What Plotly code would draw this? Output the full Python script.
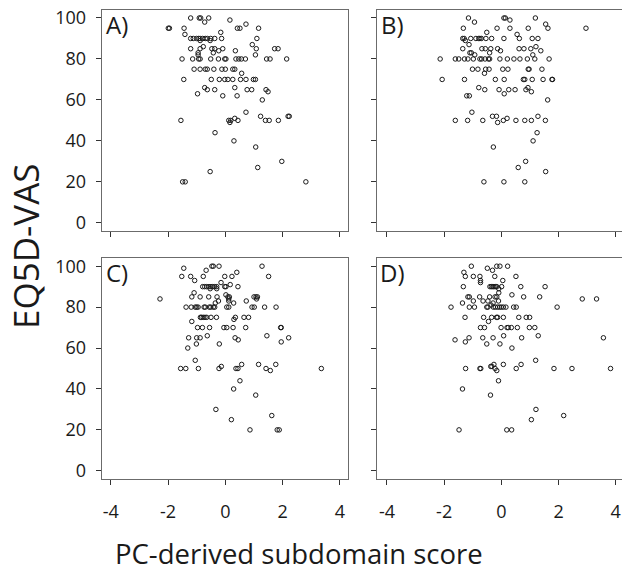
import plotly.graph_objects as go

# ---------------- data ----------------
a_x = [-1.21, -0.91, -0.86, -0.58, -0.72, 0.16, -1.99, -1.95, -1.44, 0.42, 0.51, 0.72, 1.16, -1.41, -0.16,
       -1.21, -1.12, -1.0, -0.93, -0.88, -0.79, -0.70, -0.63, -0.51, -0.37, -0.13, -0.88, -0.53, 1.10, 0.94,
       1.08, 1.72, 1.84, -1.21, -0.88, -0.77, -0.47, -0.37, -0.42, -0.23, -0.09, 0.35, 1.05, -0.95, -0.95,
       -1.51, -1.14, -0.93, -0.88, -0.51, -0.24, -0.02, 0.02, 0.37, 0.47, 0.56, 0.70, 1.44, 1.56, 2.14,
       -1.09, -0.88, -0.70, -0.63, -0.40, -0.12, 0.0, 0.26, 0.33, 0.57,
       -1.45, -0.49, -0.21, -0.02, 0.09, 0.26, 0.53, 0.72, 0.98, 1.05,
       -0.72, -0.63, -0.37, 0.33, 0.76, 0.92, 1.42, 1.49, -0.97, -0.09, 0.41, 1.29,
       0.72, 1.23, 2.19, 2.23, -1.55, 0.12, 0.19, 0.16, 0.33, 0.44, 1.40, 1.53, 1.85,
       -0.36, 0.30, 1.06, 1.97, 1.13, -0.53, -1.49, -1.40, 2.81]
a_y = [100, 100, 100, 100, 98, 99, 95, 95, 95, 95, 95, 97, 95, 92, 93,
       90, 90, 90, 90, 90, 90, 90, 90, 90, 90, 90, 89, 89, 90, 87,
       85, 85, 85, 85, 85, 86, 85, 85, 83, 84, 85, 84, 82, 83, 82,
       80, 80, 80, 80, 80, 80, 80, 80, 80, 80, 80, 80, 80, 80, 80,
       75, 75, 75, 75, 75, 75, 75, 75, 75, 73,
       70, 70, 70, 70, 70, 70, 70, 70, 70, 70,
       66, 65, 65, 66, 65, 65, 65, 64, 63, 62, 62, 60,
       54, 52, 52, 52, 50, 50, 50, 49, 51, 50, 50, 50, 50,
       44, 40, 37, 30, 27, 25, 20, 20, 20]

b_x = [-1.15, -0.94, 0.09, 0.14, 0.30, 1.19, 1.55, 1.63, 2.96, -1.33, -0.15, 0.30, 0.94, -0.51, 0.55,
       -1.35, -1.30, -1.07, -0.89, -0.79, -0.75, -0.70, -0.54, -0.34, 0.09, 0.63, 1.08, 1.28, -1.26, -1.13,
       -1.35, -0.68, -0.56, -0.37, -0.13, -0.03, 0.62, 0.79, 1.03, 1.21, 1.38, -1.10, -1.05, -0.93, -0.41, 1.10,
       -2.14, -1.61, -1.49, -1.29, -1.17, -0.98, -0.75, -0.69, -0.57, -0.45, -0.41, -0.05, 0.21, 0.44, 0.65,
       0.91, 1.17, 1.67,
       -1.01, -0.82, -0.59, -0.55, -0.43, 0.05, 0.23, 0.94, 0.97, 1.42,
       -2.07, -1.29, -0.21, 0.10, 0.77, 0.82, 1.08, 1.46, 1.77, 1.79,
       -0.79, -0.58, -0.08, 0.10, 0.26, 0.48, 0.86, 0.93, 1.05, -1.21, -1.12, 1.62,
       -1.03, -0.31, -0.17, -1.61, -1.18, -0.65, -0.13, 0.07, 0.20, 0.51, 0.82, 1.05, 1.28, 1.54,
       1.25, 1.11, -0.28, 0.85, 0.59, 1.55, -0.61, 0.09, 0.82]
b_y = [100, 98, 100, 100, 99, 100, 97, 95, 95, 95, 95, 95, 95, 93, 92,
       90, 90, 90, 90, 90, 90, 90, 90, 90, 90, 90, 90, 90, 89, 87,
       85, 85, 85, 85, 85, 84, 85, 85, 85, 86, 84, 83, 83, 82, 83, 82,
       80, 80, 80, 80, 80, 80, 80, 80, 80, 80, 80, 80, 80, 80, 80,
       80, 80, 80,
       75, 75, 73, 75, 75, 75, 75, 75, 75, 75,
       70, 70, 70, 70, 70, 70, 70, 70, 70, 70,
       66, 65, 65, 63, 65, 65, 65, 66, 64, 62, 62, 60,
       54, 52, 52, 50, 50, 50, 49, 50, 51, 50, 50, 50, 52, 50,
       44, 40, 37, 30, 27, 25, 20, 20, 20]

c_x = [-1.45, -0.47, -0.42, -0.22, 1.28, -0.67, -1.52, -1.21, -1.07, -0.77, -0.02, 0.23, 0.40, 1.51, -0.15, 0.17,
       -0.79, -0.72, -0.65, -0.57, -0.50, -0.44, -0.37, -0.30, -0.53, -0.30, -0.02, 0.02, 0.44,
       -1.09, -1.17, -0.88, -0.58, -0.29, 0.02, 0.09, 0.14, 0.12, 1.00, 1.07, 1.12, 1.09, -2.28, -0.24,
       -0.35, 0.29, 0.73, 0.12,
       -1.37, -1.19, -1.05, -1.00, -0.95, -0.74, -0.70, -0.56, -0.51, -0.42, -0.37, 0.05, 0.12, 0.93, 1.01,
       1.37, 1.77,
       -0.87, -0.83, -0.77, -0.71, -0.65, -0.50, -0.31, 0.30, 0.35, 0.65, 0.81, -1.17,
       -0.97, -0.80, -0.55, -0.05, 0.05, 0.27, 0.71, 1.93, 1.95,
       -1.28, -1.00, -0.88, -0.63, 0.34, 0.45, 1.45, 2.21, -1.01, -0.21, 1.95, -1.31,
       -1.05, -1.56, -1.38, -0.94, -0.22, -0.14, 0.37, 0.44, 0.57, 1.16, 1.42, 1.57, 1.76, 3.35,
       0.51, 0.29, 1.06, -0.33, 1.62, 0.21, 0.86, 1.81, 1.88]
c_y = [99, 100, 100, 100, 100, 98, 95, 95, 93, 95, 95, 95, 97, 95, 92, 91,
       90, 90, 90, 90, 90, 90, 90, 90, 89, 89, 90, 90, 90,
       87, 85, 85, 85, 85, 86, 85, 85, 84, 85, 85, 85, 84, 84, 83,
       82, 82, 83, 83,
       80, 80, 80, 80, 80, 80, 80, 80, 80, 80, 80, 80, 80, 80, 80,
       80, 80,
       75, 75, 75, 75, 75, 75, 75, 74, 75, 75, 75, 73,
       70, 70, 70, 70, 70, 70, 70, 70, 70,
       65, 65, 65, 66, 65, 64, 66, 65, 62, 62, 63, 60,
       54, 50, 50, 50, 50, 51, 50, 50, 52, 52, 50, 49, 52, 50,
       44, 40, 37, 30, 27, 25, 20, 20, 20]

d_x = [-1.05, -0.49, -0.31, -0.16, -0.05, 0.22, -1.31, -1.26, -0.98, -0.75, -0.73, -0.73, -0.23, 0.05, 0.51,
       -1.33, -0.40, -0.35, -0.30, -0.26, -0.21, -0.16, 0.01, 0.68, 1.53, -0.09, -0.09,
       -1.17, -1.12, -0.76, -0.41, -0.22, -0.16, 0.37, 0.78, 1.34, 2.83, 3.33, -1.36, -0.98, -0.64, -0.47,
       -0.29, -0.36, -0.10,
       -1.76, -1.12, -0.94, -0.51, -0.47, -0.28, -0.21, -0.13, -0.06, 0.0, 0.07, 0.16, 0.43, 0.52, 1.95,
       -1.27, -0.62, -0.45, -0.34, -0.17, -0.13, 0.07, 0.61, 0.87, 0.99,
       -0.73, -0.59, -0.01, 0.20, 0.24, 0.35, 0.56, 0.98, 1.17,
       -1.62, -1.26, -1.13, -0.65, -0.51, -0.29, -0.05, 0.08, 0.71, 1.29, 3.57, 0.37,
       1.20, -1.25, -0.75, -0.72, -0.37, -0.33, -0.26, -0.22, -0.16, 0.07, 0.52, 0.69, 1.84, 2.47, 3.82,
       -0.10, -1.36, -0.38, 1.21, 2.18, 1.05, -1.48, 0.19, 0.36]
d_y = [100, 99, 98, 100, 100, 100, 97, 95, 95, 95, 93, 92, 95, 93, 95,
       90, 90, 90, 90, 90, 90, 90, 90, 90, 90, 89, 87,
       85, 85, 85, 85, 85, 85, 86, 85, 85, 84, 84, 82, 83, 83, 83,
       82, 81, 83,
       80, 80, 80, 80, 80, 80, 80, 80, 80, 80, 80, 80, 80, 80, 80,
       75, 75, 73, 75, 75, 75, 75, 75, 75, 75,
       70, 70, 70, 70, 70, 70, 70, 70, 70,
       64, 63, 65, 65, 62, 65, 62, 66, 65, 66, 65, 60,
       54, 50, 50, 50, 51, 51, 52, 50, 49, 52, 50, 52, 50, 50, 50,
       44, 40, 37, 30, 27, 25, 20, 20, 20]

panel_labels = ["A)", "B)", "C)", "D)"]
x_ticks = [-4, -2, 0, 2, 4]
y_ticks = [0, 20, 40, 60, 80, 100]
x_title = "PC-derived subdomain score"
y_title = "EQ5D-VAS"

# ---------------- figure ----------------
W, H = 622, 572
FONT = "Open Sans"

def fx(p):
    return p / W

def fy(p):
    return 1 - p / H

fig = go.Figure()
series = [(a_x, a_y), (b_x, b_y), (c_x, c_y), (d_x, d_y)]
for i, (xs, ys) in enumerate(series):
    sfx = "" if i == 0 else str(i + 1)
    fig.add_trace(go.Scatter(
        x=xs, y=ys, mode="markers", xaxis="x" + sfx, yaxis="y" + sfx,
        marker=dict(symbol="circle-open", size=4.5, color="#1a1a1a", line=dict(width=1, color="#1a1a1a")),
        showlegend=False, hoverinfo="x+y", cliponaxis=False))

x_dom_left = [fx(101.7), fx(348)]
x_dom_right = [fx(376.7), 1.0]
y_dom_top = [fy(231), fy(9.8)]
y_dom_bot = [fy(479), fy(258)]

frame = dict(showline=True, linecolor="#6b6b6b", linewidth=1, mirror=True,
             showgrid=False, zeroline=False, ticks="outside", ticklen=5,
             tickwidth=1, tickcolor="#333333", automargin=False,
             ticklabeloverflow="allow",
             tickfont=dict(family=FONT, size=18, color="#1a1a1a"))

layout_axes = {}
cfg = [
    (x_dom_left, y_dom_top, [-4.314, 4.28], False, True),
    (x_dom_right, y_dom_top, [-4.36, 4.22], False, False),
    (x_dom_left, y_dom_bot, [-4.314, 4.28], True, True),
    (x_dom_right, y_dom_bot, [-4.36, 4.22], True, False),
]
for i, (xd, yd, xr, show_x, show_y) in enumerate(cfg):
    sfx = "" if i == 0 else str(i + 1)
    layout_axes["xaxis" + sfx] = dict(frame, domain=xd, range=xr, anchor="y" + sfx,
                                      tickmode="array", tickvals=x_ticks,
                                      ticktext=[str(v) for v in x_ticks],
                                      showticklabels=show_x, ticklabelstandoff=11)
    layout_axes["yaxis" + sfx] = dict(frame, domain=yd, range=[-4, 104], anchor="x" + sfx,
                                      tickmode="array", tickvals=y_ticks,
                                      ticktext=[str(v) for v in y_ticks],
                                      showticklabels=show_y, ticklabelstandoff=6)

annotations = []
label_pos = [(104, 24.5), (378.5, 24.5), (104, 272.5), (378, 272.5)]
for lab, (px, py) in zip(panel_labels, label_pos):
    annotations.append(dict(text=lab, xref="paper", yref="paper", x=fx(px), y=fy(py),
                            xanchor="left", yanchor="middle", showarrow=False,
                            font=dict(family=FONT, size=24, color="#1a1a1a")))
annotations.append(dict(text=x_title, xref="paper", yref="paper", x=fx(299), y=fy(553),
                        xanchor="center", yanchor="middle", showarrow=False,
                        font=dict(family=FONT, size=27.5, color="#1a1a1a")))
annotations.append(dict(text=y_title, xref="paper", yref="paper", x=fx(26), y=fy(246),
                        xanchor="center", yanchor="middle", showarrow=False, textangle=-90,
                        font=dict(family=FONT, size=35, color="#1a1a1a")))

fig.update_layout(width=W, height=H, margin=dict(l=0, r=0, t=0, b=0, autoexpand=False),
                  paper_bgcolor="white", plot_bgcolor="white",
                  annotations=annotations, **layout_axes)

fig.write_html("out.html", config={"displayModeBar": False},
               post_script="document.body.style.margin='0';document.body.style.padding='0';")
